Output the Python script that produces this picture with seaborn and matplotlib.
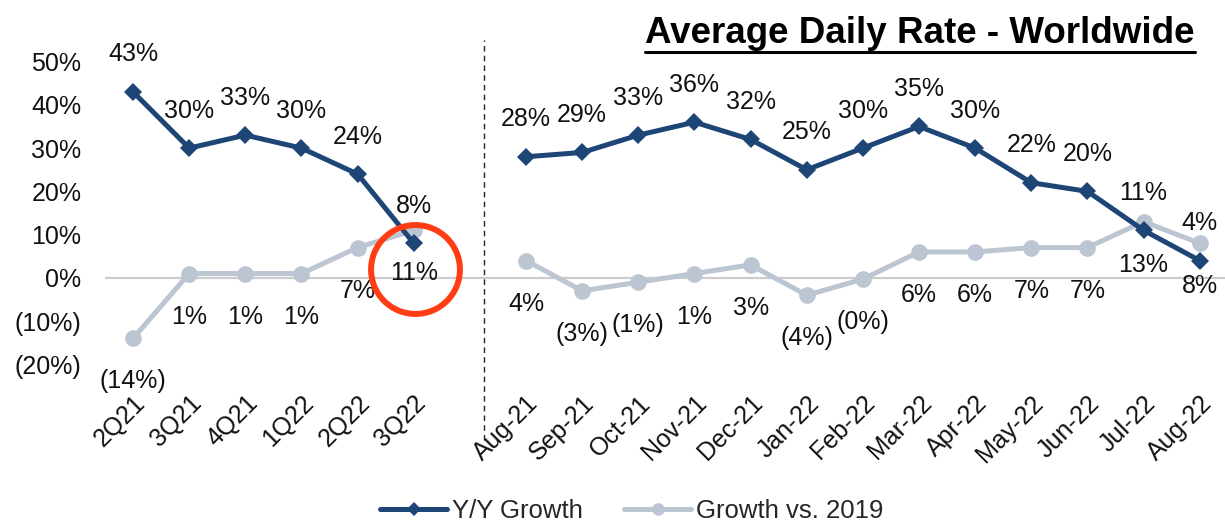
import pandas as pd
import matplotlib
matplotlib.use("Agg")
from matplotlib import pyplot as plt
from matplotlib.lines import Line2D
from matplotlib.transforms import offset_copy
import seaborn as sns

quarters = ['2Q21', '3Q21', '4Q21', '1Q22', '2Q22', '3Q22']
months = ['Aug-21', 'Sep-21', 'Oct-21', 'Nov-21', 'Dec-21', 'Jan-22', 'Feb-22',
          'Mar-22', 'Apr-22', 'May-22', 'Jun-22', 'Jul-22', 'Aug-22']

yy_quarterly = [43, 30, 33, 30, 24, 8]
vs2019_quarterly = [-14, 1, 1, 1, 7, 11]
yy_monthly = [28, 29, 33, 36, 32, 25, 30, 35, 30, 22, 20, 11, 4]
vs2019_monthly = [4, -3, -1, 1, 3, -4, -0.3, 6, 6, 7, 7, 13, 8]

BLUE = '#1d4677'
GREY = '#bcc5d2'
RED = '#ff3c14'
FS = 18


def pct_label(v):
    if v < 0:
        return '(%d%%)' % abs(round(v))
    return '%d%%' % round(v)


def build_frame():
    # quarterly points sit at 0..5, monthly ones after a one-slot gap
    q_x = list(range(len(quarters)))
    m_x = [len(quarters) + 1 + i for i in range(len(months))]
    rows = []
    for seg, xs, yy, vs in [('q', q_x, yy_quarterly, vs2019_quarterly),
                            ('m', m_x, yy_monthly, vs2019_monthly)]:
        for x, a, b in zip(xs, yy, vs):
            rows.append({'x': x, 'value': b, 'series': 'Growth vs. 2019', 'segment': seg})
            rows.append({'x': x, 'value': a, 'series': 'Y/Y Growth', 'segment': seg})
    return pd.DataFrame(rows), q_x + m_x


df, ticks = build_frame()

sns.set_style('white')
plt.rcParams['font.family'] = ['Liberation Sans', 'DejaVu Sans']

fig = plt.figure(figsize=(12.25, 5.22), dpi=100)
ax = fig.add_axes([0.0857, 0.2854, 0.9143, 0.638])

ax.axhline(0, color='#cccccc', lw=1.6, zorder=1)

sns.lineplot(data=df[df['series'] == 'Growth vs. 2019'], x='x', y='value', units='segment',
             estimator=None, color=GREY, lw=3.6, marker='o', markersize=12,
             markeredgewidth=0, ax=ax, zorder=2)
sns.lineplot(data=df[df['series'] == 'Y/Y Growth'], x='x', y='value', units='segment',
             estimator=None, color=BLUE, lw=3.6, marker='D', markersize=9,
             markeredgewidth=0, ax=ax, zorder=3)

LABEL_OFF = {'Y/Y Growth': 27, 'Growth vs. 2019': -31}
for _, r in df.iterrows():
    ax.annotate(pct_label(r['value']), (r['x'], r['value']), xytext=(0, LABEL_OFF[r['series']]),
                textcoords='offset points', ha='center', va='center', fontsize=FS,
                color='#111111', zorder=5)

# red highlight ring round the 3Q22 "vs. 2019" label
qi = quarters.index('3Q22')
ring_tr = offset_copy(ax.transData, fig=fig, x=1, y=-28, units='points')
ax.plot([qi], [vs2019_quarterly[qi]], marker='o', ms=64, mfc='none', mec=RED, mew=4.3,
        transform=ring_tr, clip_on=False, zorder=6)

ax.set_xlim(-0.5, 19.45)
ax.set_ylim(-22, 55)
yt = [-20, -10, 0, 10, 20, 30, 40, 50]
ax.set_yticks(yt)
ax.set_yticklabels([pct_label(v) for v in yt])
ax.set_xticks(ticks)
ax.set_xticklabels(quarters + months, rotation=45, ha='right', rotation_mode='anchor')
ax.tick_params(axis='y', length=0, pad=17, labelsize=FS, labelcolor='#111111')
ax.tick_params(axis='x', length=0, pad=13, labelsize=FS, labelcolor='#111111')
ax.set_xlabel('')
ax.set_ylabel('')
for s in ax.spines.values():
    s.set_visible(False)

# dashed separator between quarterly and monthly sections
ax.axvline(6.25, ymin=-0.2, ymax=1.0, color='#222222', lw=1.0, ls=(0, (4, 3)), clip_on=False)

title = fig.text(0.9755, 0.935, 'Average Daily Rate - Worldwide', ha='right', va='center',
                 fontsize=26.5, fontweight='bold', color='#000000')
fig.canvas.draw()
bb = title.get_window_extent(fig.canvas.get_renderer()).transformed(fig.transFigure.inverted())
fig.add_artist(Line2D([bb.x0, bb.x1], [bb.y0 - 0.002, bb.y0 - 0.002], color='black', lw=2.2))

handles = [Line2D([0], [0], color=BLUE, lw=3.6, marker='D', markersize=7, markeredgewidth=0),
           Line2D([0], [0], color=GREY, lw=3.6, marker='o', markersize=9, markeredgewidth=0)]
fig.legend(handles, ['Y/Y Growth', 'Growth vs. 2019'], loc='center',
           bbox_to_anchor=(0.516, 0.022), ncol=2, frameon=False, fontsize=18.5,
           handlelength=2.6, handletextpad=0.2, columnspacing=1.6)

fig.savefig('out.png', dpi=100)
